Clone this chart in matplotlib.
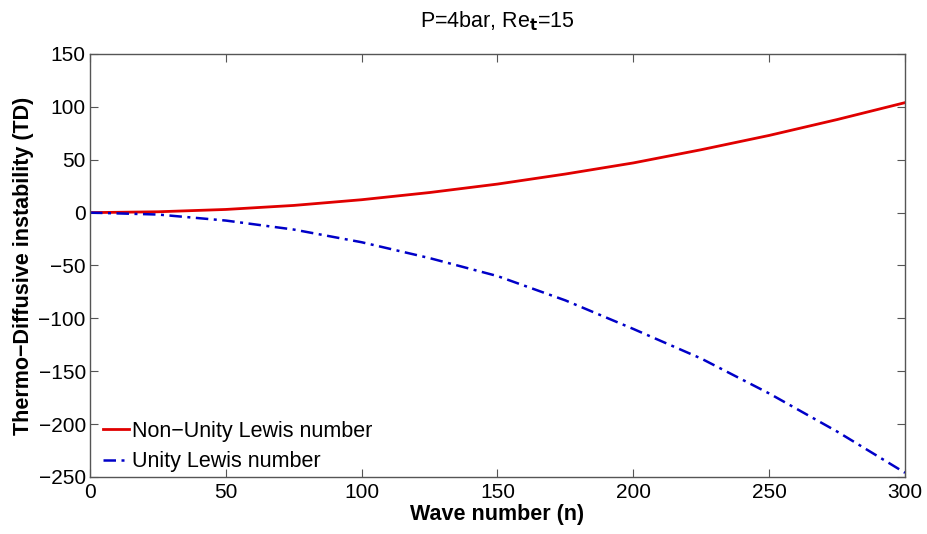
import matplotlib
matplotlib.use('Agg')
import matplotlib.pyplot as plt

# values
wave_n = [0, 25, 50, 75, 100, 125, 150, 175, 200, 225, 250, 275, 300]
td_non_unity = [0, 0.8, 3.0, 6.8, 12.2, 19.0, 27.0, 36.5, 47.0, 59.5, 73.0, 88.0, 104.0]
td_unity = [0, -1.8, -7.5, -16.0, -28.0, -43.0, -60.0, -83.0, -110.0, -138.0, -171.0, -207.0, -246.0]

plt.rcParams['font.family'] = ['Liberation Sans', 'DejaVu Sans']

fig = plt.figure(figsize=(9.27, 5.34), dpi=100)
ax = fig.add_axes([90 / 927, 1 - 477 / 534, 815 / 927, 423 / 534])

ax.plot(wave_n, td_non_unity, color='#e00000', linewidth=2.0, label='Non\u2212Unity Lewis number')
ax.plot(wave_n, td_unity, color='#0000c8', linewidth=1.8, linestyle='-.', dashes=(5, 2.2, 1.2, 2.2),
        label='Unity Lewis number')

ax.set_xlim(0, 300)
ax.set_ylim(-250, 150)
ax.set_xticks(range(0, 301, 50))
ax.set_yticks(range(-250, 151, 50))
ax.set_yticklabels([str(v).replace('-', '\u2212') for v in range(-250, 151, 50)])
ax.tick_params(direction='in', top=True, right=True, labelsize=15, length=6, color='#555555')
ax.tick_params(axis='y', pad=3)
ax.tick_params(axis='x', pad=4)
for sp in ax.spines.values():
    sp.set_color('#555555')
    sp.set_linewidth(1.0)

ax.set_xlabel('Wave number (n)', fontsize=15.5, fontweight='bold', labelpad=2)
ax.set_ylabel('Thermo\u2212Diffusive instability (TD)', fontsize=15.5, fontweight='bold', labelpad=3)
ax.set_title(r'P=4bar, Re$_{\mathbf{t}}$=15', fontsize=15.5, pad=19)

ax.legend(loc='lower left', frameon=False, fontsize=15.5, handlelength=1.2, handletextpad=0.15,
          borderaxespad=0.07, labelspacing=0.45, borderpad=0.15, bbox_to_anchor=(0.01, 0.0))

fig.savefig('out.png', dpi=100)
